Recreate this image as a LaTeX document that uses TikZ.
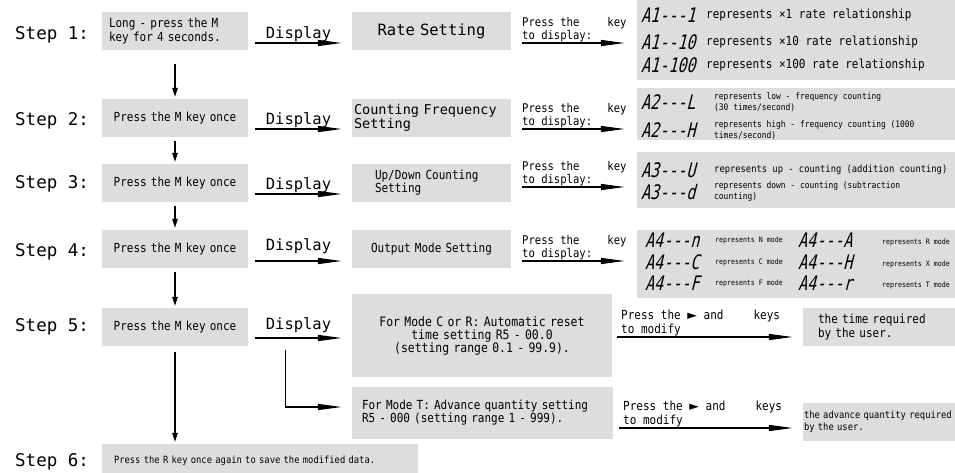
\documentclass[tikz,border=0pt]{standalone}
\usepackage{fontspec}
\setmainfont[FakeStretch=0.88]{DejaVu Sans Mono}
\newfontfamily\widefont{DejaVu Sans Mono}
\newfontfamily\segfont[FakeStretch=0.75,FakeSlant=0.25,Ligatures=TeXOff]{DejaVu Sans Mono}
\newfontfamily\symfont{DejaVu Sans}
\usepackage{xcolor}
\usepackage{tikz}
\usetikzlibrary{arrows.meta}
\usetikzlibrary{calc}
\definecolor{boxgray}{RGB}{221,221,221}
\newcommand{\fsz}[2]{\fontsize{#1}{#2}\selectfont}

\begin{document}
\begin{tikzpicture}[x=1pt,y=-1pt,
  box/.style={fill=boxgray,inner ysep=0pt,font=\fsz{12.5}{13}},
  steplabel/.style={anchor=west,inner sep=0pt,font=\widefont\fsz{17.5}{18}},
  seg/.style={anchor=west,inner sep=0pt,font=\segfont\fsz{20}{20}},
  tiny/.style={anchor=west,inner sep=0pt,font=\fsz{7.5}{8}},
  down/.style={line width=1.3pt,-{Triangle[length=9pt,width=5.5pt]}},
  wedge/.style={line width=1.3pt,-{Triangle[length=24pt,width=6pt]}}]
\useasboundingbox (0,0) rectangle (955,472);
%% step labels
\foreach \n/\y in {1/35,2/121,3/184,4/252,5/327,6/462}
  \node[steplabel] (step\n) at (15,\y) {Step \n:};
%% first column
\node[box,text width=132,inner xsep=7,minimum height=38,align=left,font=\fsz{12.5}{10.5}] (b1) at (175,31) {Long - press the M\\key for 4 seconds.};
\foreach \n/\y in {2/118,3/183,4/249,5/327}
  \node[box,text width=134,inner xsep=6,minimum height=38,align=center] (b\n) at (175,\y) {Press the M key once};
\node[box,text width=292,inner xsep=12,minimum height=34,align=left,font=\fsz{10}{12}] (b6) at (260,461) {Press the R key once again to save the modified data.};
%% second column
\node[box,text width=151,inner xsep=4,minimum height=38,align=center,font=\widefont\fsz{15.5}{16}] (c1) at (431.5,31) {Rate Setting};
\node[box,text width=155,inner xsep=2,minimum height=38,align=left,font=\widefont\fsz{13.5}{14}] (c2) at (431.5,118) {Counting Frequency\\Setting};
\node[box,text width=113,inner xsep=23,minimum height=38,align=left] (c3) at (431.5,183) {Up/Down Counting\\Setting};
\node[box,text width=151,inner xsep=4,minimum height=38,align=center] (c4) at (431.5,249) {Output Mode Setting};
\node[box,text width=252,inner xsep=4,minimum height=83,align=center,font=\fsz{13}{13}] (c5) at (482,335.5) {For Mode C or R: Automatic reset\\ time setting R5 - 00.0\\(setting range 0.1 - 99.9).};
\node[box,text width=241,inner xsep=10,minimum height=52,align=left] (c6) at (482.5,413) {For Mode T: Advance quantity setting\\R5 - 000 (setting range 1 - 999).};
%% display boxes
\node[box,minimum width=324,minimum height=82] (d1) at (799,39) {};
\node[box,minimum width=324,minimum height=52] (d2) at (799,114) {};
\node[box,minimum width=324,minimum height=56] (d3) at (799,180) {};
\node[box,minimum width=324,minimum height=68] (d4) at (799,264) {};
\foreach \y/\code/\x/\sz/\txt in {
    15/A1---1/706/12.5/{represents ×1 rate relationship},
    42/A1--10/706/12.5/{represents ×10 rate relationship},
    65/A1-100/706/12.5/{represents ×100 rate relationship},
    102/A2---L/714/9/{represents low - frequency counting\\(30 times/second)},
    130/A2---H/714/9/{represents high - frequency counting (1000\\times/second)},
    170/A3---U/714/10/{represents up - counting (addition counting)},
    192/A3---d/714/9/{represents down - counting (subtraction\\counting)}}
{
  \node[seg] (code\y) at (641,\y) {\code};
  \node[anchor=west,inner sep=0pt,align=left,font=\fsz{\sz}{11}] (info\y) at (\x,\y) {\txt};
}
\foreach \y/\a/\b/\c/\d in {240/n/N/A/R, 262/C/C/H/X, 283/F/F/r/T}
{
  \node[seg] (codeL\y) at (645,\y) {A4---\a};
  \node[tiny] (infoL\y) at (715,\y) {represents \b\ mode};
  \node[seg] (codeR\y) at (798,\y) {A4---\c};
  \node[tiny] (infoR\y) at (882,\y+2) {represents \d\ mode};
}
%% user boxes
\node[box,text width=127,inner xsep=15,minimum height=38,align=left,font=\fsz{12.5}{14}] (e1) at (881.5,327) {the time required\\by the user.};
\node[box,text width=155,inner xsep=1,minimum height=38,align=left,font=\fsz{10}{12}] (e2) at (881.5,422) {the advance quantity required\\by the user.};
%% arrows
\foreach \a/\b/\s in {b1/b2/14, b2/b3/4, b3/b4/4, b4/b5/4, b5/b6/6}
  \draw[down] ($(\a.south)+(0,\s)$) -- ($(\a.south |- \b.north)+(0,-2)$);
\foreach \n/\dy/\s in {1/12/1, 2/11/1, 3/11/1, 4/12/7, 5/11/4.5}
  \draw[wedge] ($(b\n.east)+(7,\dy)$) -- ($(b\n.east -| c\n.west)+(-10,\dy)$)
    node[midway,above,inner sep=\s pt,font=\widefont\fsz{15.5}{16}] (disp\n) {Display};
\draw[wedge] ($(b5.east)+(37,23)$) |- ($(c6.west)+(-10,-6)$);
\foreach \n/\y in {1/43, 2/129, 3/187, 4/261}
{
  \node[anchor=south west,inner xsep=0pt,inner ysep=1pt,align=left,font=\fsz{12}{13}] (key\n) at (522,\y) {Press the\hspace{28pt}key\\to display:};
  \draw[wedge] (key\n.south west) -- ($(key\n.south west -| d\n.west)+(-12,0)$);
}
\foreach \n/\x/\y in {1/621/337, 2/623/428}
{
  \node[anchor=south west,inner xsep=0pt,inner ysep=1pt,align=left,font=\fsz{12.5}{14}] (mod\n) at (\x,\y) {Press the {\symfont ►} and\hspace{30pt}keys\\to modify};
  \draw[wedge] ($(mod\n.south west)+(-4,0)$) -- ($(mod\n.south west -| e\n.west)+(-10,0)$);
}
\end{tikzpicture}
\end{document}
